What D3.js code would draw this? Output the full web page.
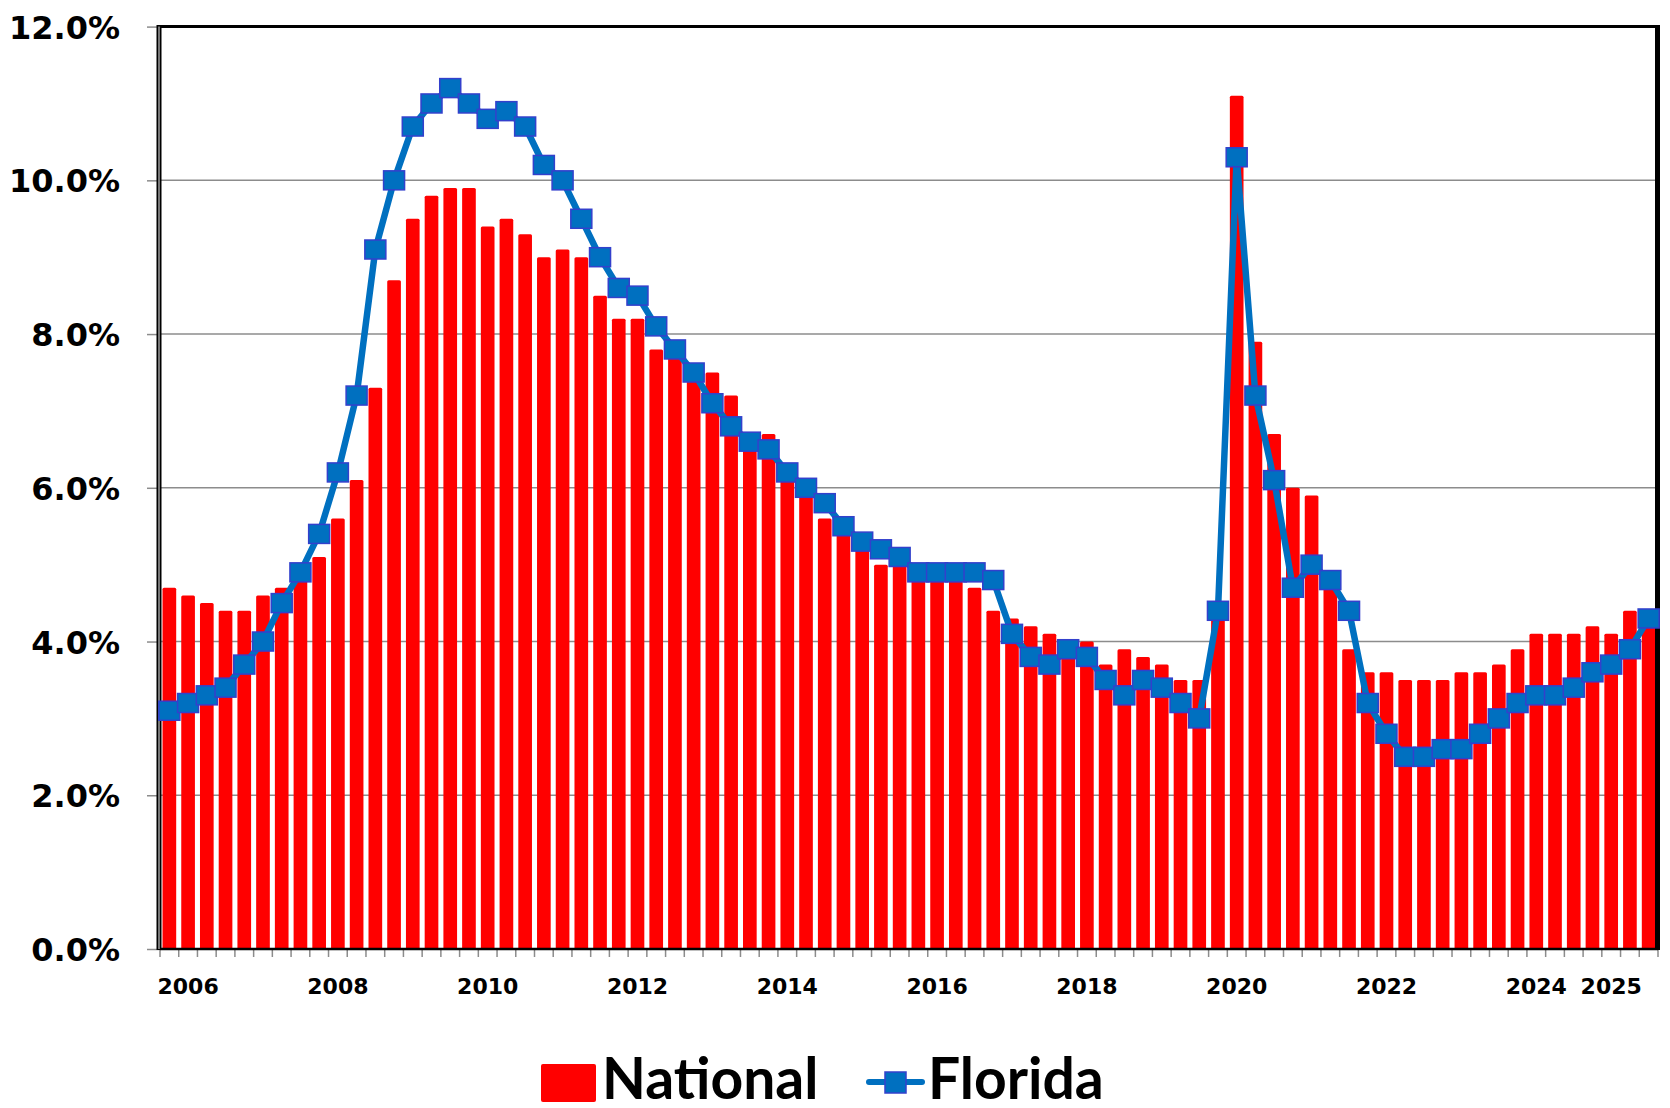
<!DOCTYPE html>
<html>
<head>
<meta charset="utf-8">
<script src="https://cdn.jsdelivr.net/npm/d3@7"></script>
<style>
  body { margin: 0; background: #fff; }
  svg { display: block; }
</style>
</head>
<body>
<svg id="chart" width="1670" height="1108"></svg>
<script>

// quarter-end readings, 2006 Q1 .. 2025 Q4
var quarters = [];
for (var yr = 2006; yr <= 2025; yr++) {
  for (var q = 1; q <= 4; q++) quarters.push(yr + " Q" + q);
}

var national = [
  4.7, 4.6, 4.5, 4.4, 4.4, 4.6, 4.7, 5.0,
  5.1, 5.6, 6.1, 7.3, 8.7, 9.5, 9.8, 9.9,
  9.9, 9.4, 9.5, 9.3, 9.0, 9.1, 9.0, 8.5,
  8.2, 8.2, 7.8, 7.7, 7.5, 7.5, 7.2, 6.7,
  6.7, 6.1, 5.9, 5.6, 5.4, 5.3, 5.0, 5.0,
  5.0, 4.9, 5.0, 4.7, 4.4, 4.3, 4.2, 4.1,
  4.0, 4.0, 3.7, 3.9, 3.8, 3.7, 3.5, 3.5,
  4.4, 11.1, 7.9, 6.7, 6.0, 5.9, 4.7, 3.9,
  3.6, 3.6, 3.5, 3.5, 3.5, 3.6, 3.6, 3.7,
  3.9, 4.1, 4.1, 4.1, 4.2, 4.1, 4.4, 4.4
];

var florida = [
  3.1, 3.2, 3.3, 3.4, 3.7, 4.0, 4.5, 4.9,
  5.4, 6.2, 7.2, 9.1, 10.0, 10.7, 11.0, 11.2,
  11.0, 10.8, 10.9, 10.7, 10.2, 10.0, 9.5, 9.0,
  8.6, 8.5, 8.1, 7.8, 7.5, 7.1, 6.8, 6.6,
  6.5, 6.2, 6.0, 5.8, 5.5, 5.3, 5.2, 5.1,
  4.9, 4.9, 4.9, 4.9, 4.8, 4.1, 3.8, 3.7,
  3.9, 3.8, 3.5, 3.3, 3.5, 3.4, 3.2, 3.0,
  4.4, 10.3, 7.2, 6.1, 4.7, 5.0, 4.8, 4.4,
  3.2, 2.8, 2.5, 2.5, 2.6, 2.6, 2.8, 3.0,
  3.2, 3.3, 3.3, 3.4, 3.6, 3.7, 3.9, 4.3
];

var yTicks = [0, 2, 4, 6, 8, 10, 12];
var xTickLabels = ["2006", "2008", "2010", "2012", "2014", "2016", "2018", "2020", "2022", "2024", "2025"];
var xTickQuarters = ["2006 Q2", "2008 Q2", "2010 Q2", "2012 Q2", "2014 Q2", "2016 Q2", "2018 Q2", "2020 Q2", "2022 Q2", "2024 Q2", "2025 Q2"];

var seriesNames = ["National", "Florida"];
var colors = { bar: "#ff0000", line: "#0070c0", marker: "#0070c0", markerEdge: "#3340cc" };

var plotL = 160, plotR = 1658, plotT = 26.6, plotB = 949;
var svg = d3.select("#chart");

var pad = 0.27;
var x = d3.scaleBand().domain(quarters).range([plotL, plotR])
  .paddingInner(pad).paddingOuter(pad / 2);
var y = d3.scaleLinear().domain([0, 12]).range([plotB, plotT]);

var rows = quarters.map(function(q, i) {
  return { q: q, nat: national[i], fl: florida[i] };
});

// grid
svg.append("g").selectAll("line").data(yTicks.slice(1)).join("line")
  .attr("x1", plotL).attr("x2", plotR)
  .attr("y1", function(d) { return y(d); }).attr("y2", function(d) { return y(d); })
  .attr("stroke", "#8c8c8c").attr("stroke-width", 1.5);

// bars
svg.append("g").selectAll("rect").data(rows).join("rect")
  .attr("x", function(d) { return x(d.q); })
  .attr("y", function(d) { return y(d.nat); })
  .attr("width", x.bandwidth())
  .attr("height", function(d) { return y(0) - y(d.nat); })
  .attr("rx", 1.5)
  .attr("fill", colors.bar);

// y axis
var yAxis = svg.append("g").attr("transform", "translate(" + plotL + ",0)")
  .call(d3.axisLeft(y).tickValues(yTicks).tickSize(13).tickPadding(27)
    .tickFormat(function(d) { return d.toFixed(1) + "%"; }));
yAxis.select(".domain").remove();
yAxis.selectAll(".tick line").attr("stroke", "#8c8c8c").attr("stroke-width", 1.5);
yAxis.selectAll(".tick text")
  .attr("font-family", "DejaVu Sans").attr("font-weight", "bold")
  .attr("font-size", 32).attr("fill", "#000").attr("dy", "0.36em");

// x axis: tick marks on category edges, labels under selected quarters
var edges = quarters.map(function(q) { return x(q) - x.step() * pad / 2; }).concat([plotR]);
svg.append("g").selectAll("line").data(edges).join("line")
  .attr("x1", function(d) { return d; }).attr("x2", function(d) { return d; })
  .attr("y1", plotB).attr("y2", plotB + 8)
  .attr("stroke", "#8c8c8c").attr("stroke-width", 1.5);

var xAxis = svg.append("g").attr("transform", "translate(0," + plotB + ")")
  .call(d3.axisBottom(x).tickValues(xTickQuarters).tickSize(0).tickPadding(29)
    .tickFormat(function(d) { return xTickLabels[xTickQuarters.indexOf(d)]; }));
xAxis.select(".domain").remove();
xAxis.selectAll(".tick text")
  .attr("font-family", "DejaVu Sans").attr("font-weight", "bold")
  .attr("font-size", 22).attr("fill", "#000");

// frame
svg.append("line").attr("x1", plotL).attr("x2", plotR).attr("y1", plotB).attr("y2", plotB)
  .attr("stroke", "#000").attr("stroke-width", 2.5);
svg.append("line").attr("x1", plotL - 1).attr("x2", plotR).attr("y1", plotT).attr("y2", plotT)
  .attr("stroke", "#000").attr("stroke-width", 3);
svg.append("line").attr("x1", plotR - 0.5).attr("x2", plotR - 0.5).attr("y1", plotT - 1.5).attr("y2", plotB + 1)
  .attr("stroke", "#000").attr("stroke-width", 5);
svg.append("line").attr("x1", plotL - 1).attr("x2", plotL - 1).attr("y1", plotT - 1.5).attr("y2", plotB + 1)
  .attr("stroke", "#000").attr("stroke-width", 5);
svg.append("line").attr("x1", plotL - 1).attr("x2", plotL - 1).attr("y1", plotT).attr("y2", plotB)
  .attr("stroke", "#777").attr("stroke-width", 2);

// florida line + markers
var cx = function(d) { return x(d.q) + x.bandwidth() / 2; };
svg.append("path").datum(rows)
  .attr("d", d3.line().x(cx).y(function(d) { return y(d.fl); }))
  .attr("fill", "none").attr("stroke", colors.line).attr("stroke-width", 6.5)
  .attr("stroke-linejoin", "round");

var mw = 21, mh = 19;
svg.append("g").selectAll("rect").data(rows).join("rect")
  .attr("x", function(d) { return cx(d) - mw / 2; })
  .attr("y", function(d) { return y(d.fl) - mh / 2; })
  .attr("width", mw).attr("height", mh)
  .attr("fill", colors.marker).attr("stroke", colors.markerEdge).attr("stroke-width", 1.5);

// legend
var lg = svg.append("g");
lg.append("rect").attr("x", 541).attr("y", 1064).attr("width", 55).attr("height", 38)
  .attr("rx", 2).attr("fill", colors.bar);
lg.append("text").attr("x", 602).attr("y", 1099).text(seriesNames[0])
  .attr("font-family", "Lato").attr("font-weight", "bold").attr("font-size", 57).attr("fill", "#000");
lg.append("line").attr("x1", 869).attr("x2", 922).attr("y1", 1082).attr("y2", 1082)
  .attr("stroke", colors.line).attr("stroke-width", 6).attr("stroke-linecap", "round");
lg.append("rect").attr("x", 885).attr("y", 1072).attr("width", 21).attr("height", 21)
  .attr("fill", colors.marker).attr("stroke", colors.markerEdge).attr("stroke-width", 1.5);
lg.append("text").attr("x", 928).attr("y", 1099).text(seriesNames[1])
  .attr("font-family", "Lato").attr("font-weight", "bold").attr("font-size", 57).attr("fill", "#000");

</script>
</body>
</html>
